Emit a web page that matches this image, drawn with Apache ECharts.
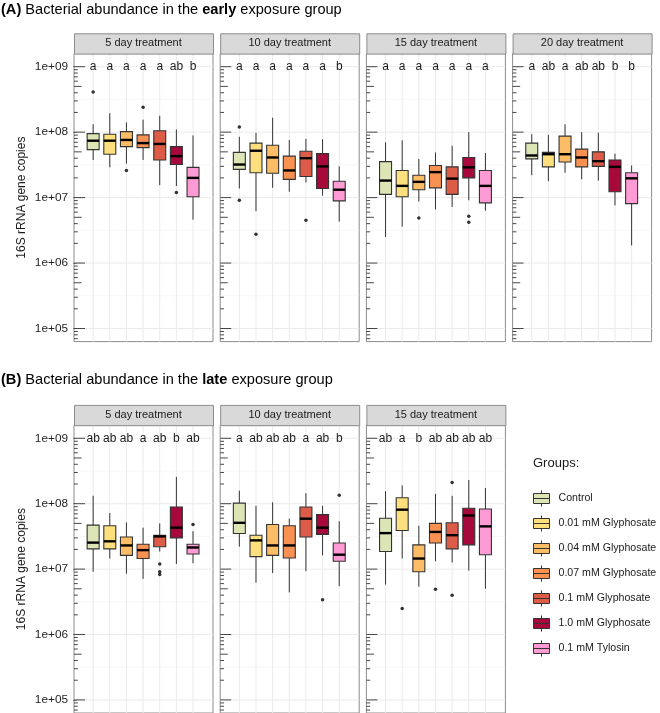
<!DOCTYPE html>
<html>
<head>
<meta charset="utf-8">
<script src="https://cdn.jsdelivr.net/npm/echarts@6/dist/echarts.min.js"></script>
<style>html,body{margin:0;padding:0;background:#fff}#c{width:660px;height:713px}</style>
</head>
<body>
<div id="c"></div>
<script>
// ---------------- data ----------------
const groups = ['Control','0.01 mM Glyphosate','0.04 mM Glyphosate','0.07 mM Glyphosate','0.1 mM Glyphosate','1.0 mM Glyphosate','0.1 mM Tylosin'];
const groupColors = ['#DCE5B6','#FEDF7E','#FDBD66','#F99152','#DC5C47','#A6093A','#FF9BD4'];
const panelTitles = ['5 day treatment','10 day treatment','15 day treatment','20 day treatment'];
const rowTitles = ['early','late'];
const yTickValues = [1e5, 1e6, 1e7, 1e8, 1e9];
const yTickLabels = ['1e+05','1e+06','1e+07','1e+08','1e+09'];
const yName = '16S rRNA gene copies';

// box rows: [lower whisker, Q1, median, Q3, upper whisker] (gene copies)
const early5Box = [
  [3.76e7, 5.4e7, 7.4e7, 9.5e7, 1.32e8],
  [2.9e7, 4.6e7, 7.4e7, 9.3e7, 1.95e8],
  [3.3e7, 6.0e7, 7.6e7, 1.02e8, 1.41e8],
  [3.76e7, 5.8e7, 6.8e7, 9.1e7, 1.55e8],
  [1.55e7, 3.76e7, 6.6e7, 1.05e8, 1.78e8],
  [1.5e7, 3.2e7, 4.3e7, 6.0e7, 1.1e8],
  [4.6e6, 1.03e7, 2.0e7, 2.9e7, 8.9e7]
];
const early5Out = [[4.1e8], [], [2.6e7], [2.4e8], [], [1.2e7], []];
const early5Letters = ['a','a','a','a','a','ab','b'];

const early10Box = [
  [1.38e7, 2.7e7, 3.2e7, 4.9e7, 8.5e7],
  [6.2e6, 2.4e7, 5.2e7, 6.8e7, 9.8e7],
  [1.41e7, 2.35e7, 4.1e7, 6.3e7, 1.66e8],
  [1.23e7, 1.9e7, 2.6e7, 4.3e7, 7.6e7],
  [1.7e7, 2.1e7, 4.0e7, 5.1e7, 7.9e7],
  [1.07e7, 1.38e7, 3.0e7, 4.7e7, 7.8e7],
  [4.3e6, 8.9e6, 1.32e7, 1.78e7, 3.0e7]
];
const early10Out = [[1.2e8, 9.1e6], [2.75e6], [], [], [4.5e6], [], []];
const early10Letters = ['a','a','a','a','a','a','b'];

const early15Box = [
  [2.5e6, 1.12e7, 1.82e7, 3.55e7, 7.0e7],
  [3.6e6, 1.03e7, 1.51e7, 2.6e7, 7.5e7],
  [8.7e6, 1.32e7, 1.74e7, 2.2e7, 3.9e7],
  [6.6e6, 1.41e7, 2.45e7, 3.1e7, 4.9e7],
  [7.2e6, 1.12e7, 1.95e7, 2.95e7, 6.2e7],
  [9.1e6, 2.0e7, 2.9e7, 4.1e7, 1.0e8],
  [6.3e6, 8.3e6, 1.51e7, 2.6e7, 4.8e7]
];
const early15Out = [[], [], [4.9e6], [], [], [5.2e6, 4.2e6], []];
const early15Letters = ['a','a','a','a','a','a','a'];

const early20Box = [
  [2.2e7, 3.9e7, 4.4e7, 6.8e7, 9.3e7],
  [1.78e7, 2.95e7, 4.6e7, 4.9e7, 9.1e7],
  [2.4e7, 3.5e7, 4.6e7, 8.7e7, 1.32e8],
  [1.9e7, 2.95e7, 4.1e7, 5.5e7, 1.0e8],
  [1.82e7, 3.0e7, 3.6e7, 5.0e7, 9.8e7],
  [7.6e6, 1.23e7, 2.95e7, 3.76e7, 4.7e7],
  [1.86e6, 8.1e6, 1.97e7, 2.4e7, 3.1e7]
];
const early20Out = [[], [], [], [], [], [], []];
const early20Letters = ['a','ab','a','ab','ab','b','b'];

const late5Box = [
  [9.1e6, 2.04e7, 2.54e7, 4.7e7, 1.32e8],
  [1.45e7, 2.04e7, 2.66e7, 4.6e7, 7.2e7],
  [8.5e6, 1.62e7, 2.3e7, 3.1e7, 5.2e7],
  [7.1e6, 1.45e7, 1.95e7, 2.4e7, 4.3e7],
  [1.86e7, 2.2e7, 3.16e7, 3.3e7, 5.0e7],
  [1.2e7, 3.0e7, 4.3e7, 8.9e7, 2.57e8],
  [1.23e7, 1.7e7, 2.14e7, 2.4e7, 3.8e7]
];
const late5Out = [[], [], [], [], [1.2e7, 9.1e6, 8.3e6], [], [4.8e7]];
const late5Letters = ['ab','ab','ab','a','ab','b','ab'];

const late10Box = [
  [2.2e7, 3.5e7, 5.1e7, 1.02e8, 1.58e8],
  [6.2e6, 1.55e7, 2.75e7, 3.3e7, 9.3e7],
  [8.7e6, 1.62e7, 2.3e7, 4.8e7, 1.05e8],
  [4.4e6, 1.48e7, 2.3e7, 4.6e7, 5.9e7],
  [9.3e6, 3.1e7, 5.9e7, 8.9e7, 1.45e8],
  [1.62e7, 3.4e7, 4.3e7, 6.8e7, 9.3e7],
  [5.5e6, 1.32e7, 1.66e7, 2.5e7, 5.4e7]
];
const late10Out = [[], [], [], [], [], [3.4e6], [1.35e8]];
const late10Letters = ['a','ab','ab','ab','a','ab','b'];

const late15Box = [
  [5.8e6, 1.86e7, 3.55e7, 6.0e7, 1.55e8],
  [1.45e7, 3.9e7, 8.1e7, 1.23e8, 1.9e8],
  [5.4e6, 9.1e6, 1.45e7, 2.35e7, 4.6e7],
  [1.32e7, 2.5e7, 3.7e7, 5.0e7, 1.41e8],
  [1.26e7, 2.04e7, 3.3e7, 5.1e7, 1.32e8],
  [9.5e6, 2.35e7, 6.6e7, 8.5e7, 2.3e8],
  [5.0e6, 1.66e7, 4.5e7, 8.3e7, 1.74e8]
];
const late15Out = [[], [2.5e6], [], [4.9e6], [2.1e8, 4.0e6], [], []];
const late15Letters = ['ab','a','b','ab','ab','ab','ab'];

// ---------------- layout ----------------
const FONT = 'Liberation Sans, Arial, Helvetica, sans-serif';
const rowTop = [53.6, 425.2];
const rowH = 288;
const left0 = 74, panelW = 139, panelStep = 146.2, stripH = 20.3;
const yMin = 4.8, yMax = 9.2;
const xMin = -0.15, xMax = 8.2;

const panels = [
  {row:0, col:0, title:panelTitles[0], box:early5Box, out:early5Out, letters:early5Letters},
  {row:0, col:1, title:panelTitles[1], box:early10Box, out:early10Out, letters:early10Letters},
  {row:0, col:2, title:panelTitles[2], box:early15Box, out:early15Out, letters:early15Letters},
  {row:0, col:3, title:panelTitles[3], box:early20Box, out:early20Out, letters:early20Letters},
  {row:1, col:0, title:panelTitles[0], box:late5Box, out:late5Out, letters:late5Letters},
  {row:1, col:1, title:panelTitles[1], box:late10Box, out:late10Out, letters:late10Letters},
  {row:1, col:2, title:panelTitles[2], box:late15Box, out:late15Out, letters:late15Letters}
];

const logTicks = yTickValues.map(v => Math.log10(v));

function bgRenderer(params, api) {
  const cs = params.coordSys;
  const ch = [];
  const L = (x1,y1,x2,y2,stroke,w) => ch.push({type:'line', shape:{x1,y1,x2,y2}, style:{stroke, lineWidth:w}});
  for (let i = 0; i < logTicks.length - 1; i++) {
    const y = api.coord([0, (logTicks[i] + logTicks[i+1]) / 2])[1];
    L(cs.x, y, cs.x + cs.width, y, '#F2F2F2', 0.6);
  }
  logTicks.forEach(t => { const y = api.coord([0, t])[1]; L(cs.x, y, cs.x + cs.width, y, '#EBEBEB', 1); });
  groups.forEach((g, i) => { const x = api.coord([i + 1, yMin])[0]; L(x, cs.y, x, cs.y + cs.height, '#EBEBEB', 1); });
  for (let d = Math.floor(yMin); d <= Math.ceil(yMax); d++) {
    for (let k = 1; k <= 9; k++) {
      const v = d + Math.log10(k);
      if (v < yMin || v > yMax) continue;
      const len = k === 1 ? 11 : (k === 5 ? 7.6 : 3.8);
      const y = api.coord([0, v])[1];
      L(cs.x, y, cs.x + len, y, '#333333', 0.9);
    }
  }
  return {type:'group', children: ch};
}

function boxRenderer(params, api) {
  const x = api.value(0);
  const lw = api.value(1), q1 = api.value(2), md = api.value(3), q3 = api.value(4), uw = api.value(5);
  const half = 0.36;
  const a = api.coord([x - half, q3]);
  const b = api.coord([x + half, q1]);
  const top = api.coord([x, uw]);
  const bot = api.coord([x, lw]);
  const m = api.coord([x, md]);
  return {type:'group', children:[
    {type:'line', shape:{x1:top[0], y1:top[1], x2:top[0], y2:a[1]}, style:{stroke:'#333333', lineWidth:1}},
    {type:'line', shape:{x1:bot[0], y1:bot[1], x2:bot[0], y2:b[1]}, style:{stroke:'#333333', lineWidth:1}},
    {type:'rect', shape:{x:a[0], y:a[1], width:b[0]-a[0], height:b[1]-a[1]}, style:{fill:api.visual('color'), stroke:'#333333', lineWidth:1.1}},
    {type:'line', shape:{x1:a[0], y1:m[1], x2:b[0], y2:m[1]}, style:{stroke:'#000000', lineWidth:2.4}}
  ]};
}

const grids = [], xAxes = [], yAxes = [], series = [], graphics = [];
panels.forEach((p, pi) => {
  const left = left0 + p.col * panelStep;
  const top = rowTop[p.row];
  grids.push({left: left, top: top, width: panelW, height: rowH, show: true, borderColor: '#8C8C8C', borderWidth: 1, backgroundColor: 'transparent', containLabel: false});
  xAxes.push({gridIndex: pi, type: 'value', min: xMin, max: xMax, show: false});
  const first = p.col === 0;
  yAxes.push({
    gridIndex: pi, type: 'value', min: yMin, max: yMax, show: first,
    splitLine: {show: false},
    axisLine: {show: false},
    axisTick: {show: true, customValues: logTicks, length: 3, lineStyle: {color: '#333333', width: 1}},
    axisLabel: {customValues: logTicks, margin: 6, fontSize: 11.8, color: '#1f1f1f', fontFamily: FONT,
      formatter: v => { const i = logTicks.findIndex(t => Math.abs(t - v) < 1e-6); return i >= 0 ? yTickLabels[i] : ''; }},
    name: first ? yName : '', nameLocation: 'middle', nameRotate: 90, nameGap: 46,
    nameTextStyle: {fontSize: 12, color: '#1a1a1a', fontFamily: FONT}
  });
  series.push({type: 'custom', xAxisIndex: pi, yAxisIndex: pi, data: [[0, 0]], renderItem: bgRenderer, silent: true, z: 1, clip: false});
  p.box.forEach((b, gi) => {
    series.push({
      type: 'custom', name: groups[gi], xAxisIndex: pi, yAxisIndex: pi, z: 2,
      itemStyle: {color: groupColors[gi]},
      dimensions: ['x','lw','q1','med','q3','uw'],
      encode: {x: 0, y: [1,2,3,4,5]},
      data: [[gi + 1].concat(b.map(v => Math.log10(v)))],
      renderItem: boxRenderer, silent: true
    });
  });
  const outData = [];
  p.out.forEach((arr, gi) => arr.forEach(v => outData.push([gi + 1, Math.log10(v)])));
  series.push({type: 'scatter', name: 'outliers', xAxisIndex: pi, yAxisIndex: pi, z: 3, symbolSize: 3.5,
    itemStyle: {color: '#000000'}, data: outData, silent: true});
  series.push({type: 'custom', name: 'letters', xAxisIndex: pi, yAxisIndex: pi, z: 3, silent: true,
    data: p.letters.map((l, gi) => [gi + 1, logTicks[logTicks.length - 1]]),
    renderItem: (params, api) => {
      const c = api.coord([api.value(0), api.value(1)]);
      return {type: 'text', x: c[0], y: c[1], style: {text: p.letters[params.dataIndex], fill: '#1a1a1a', font: '12px ' + FONT, align: 'center', verticalAlign: 'middle'}};
    }});
  graphics.push({type: 'rect', left: left, top: top - stripH, shape: {x: 0, y: 0, width: panelW, height: stripH}, style: {fill: '#D9D9D9', stroke: '#8C8C8C', lineWidth: 1}, z: 10});
  graphics.push({type: 'text', x: left + panelW / 2, y: top - stripH / 2, style: {text: p.title, fill: '#1a1a1a', font: '11px ' + FONT, align: 'center', verticalAlign: 'middle'}, z: 11});
});

const titleStyle = {fontSize: 14.6, fontWeight: 'normal', color: '#000', fontFamily: FONT, rich: {b: {fontSize: 14.6, fontWeight: 'bold', color: '#000', fontFamily: FONT}}};
const option = {
  animation: false,
  backgroundColor: '#ffffff',
  textStyle: {fontFamily: FONT},
  title: [
    {text: '{b|(A)} Bacterial abundance in the {b|' + rowTitles[0] + '} exposure group', left: 1, top: 2, padding: 0, textStyle: titleStyle},
    {text: '{b|(B)} Bacterial abundance in the {b|' + rowTitles[1] + '} exposure group', left: 1, top: 372, padding: 0, textStyle: titleStyle},
    {text: 'Groups:', left: 533, top: 457, padding: 0, textStyle: {fontSize: 13, fontWeight: 'normal', color: '#1a1a1a', fontFamily: FONT}}
  ],
  legend: {
    data: groups, orient: 'vertical', left: 533, top: 490, padding: 0,
    itemWidth: 16, itemHeight: 16, itemGap: 8, selectedMode: false,
    icon: 'path://M0,3 H16 V13 H0 Z M0,8 H16 M8,0 V3 M8,13 V16',
    itemStyle: {borderColor: '#333333', borderWidth: 1},
    textStyle: {fontSize: 10.6, color: '#1a1a1a', fontFamily: FONT, padding: [0, 0, 0, 4]}
  },
  grid: grids,
  xAxis: xAxes,
  yAxis: yAxes,
  series: series,
  graphic: graphics
};

const chart = echarts.init(document.getElementById('c'), null, {renderer: 'canvas'});
chart.setOption(option);
</script>
</body>
</html>
